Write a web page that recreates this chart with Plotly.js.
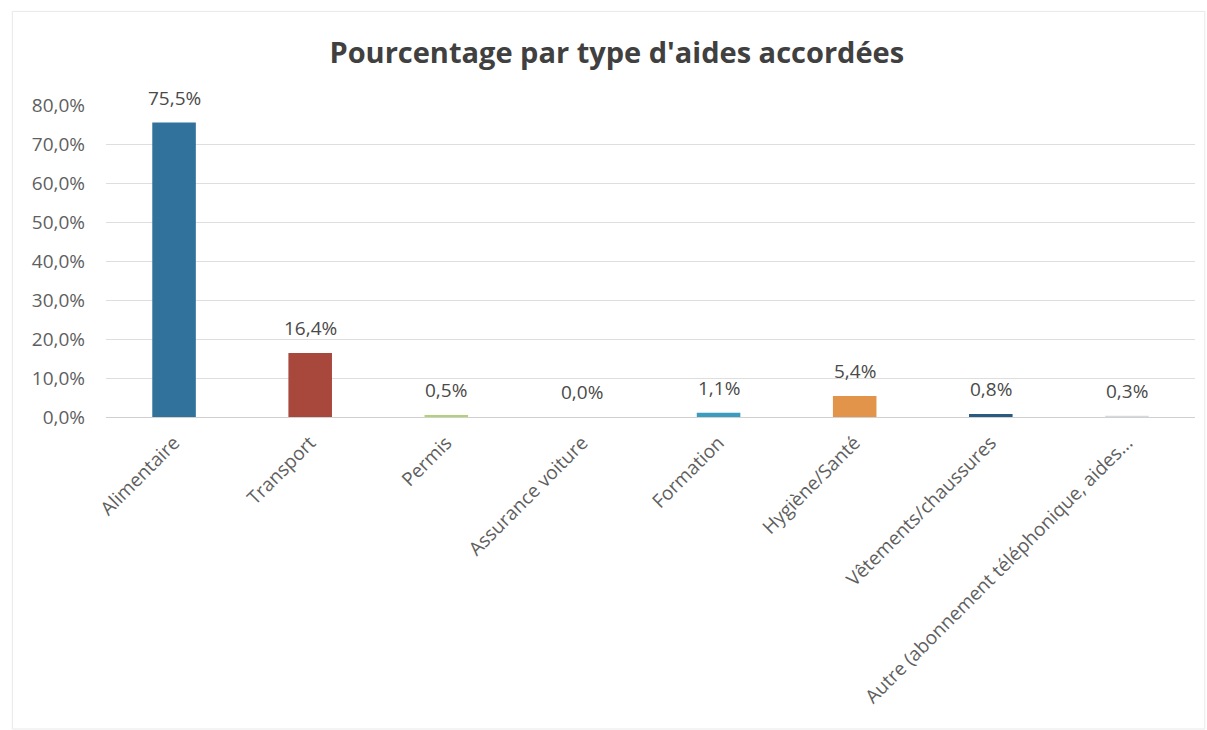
<!DOCTYPE html>
<html>
<head>
<meta charset="utf-8">
<script src="https://cdn.plot.ly/plotly-3.0.1.min.js"></script>
<style>html,body{margin:0;padding:0;background:#fff;}#chart{width:1207px;height:730px;}</style>
</head>
<body>
<div id="chart"></div>
<script>
const categories = ["Alimentaire", "Transport", "Permis", "Assurance voiture", "Formation", "Hygiène/Santé", "Vêtements/chaussures", "Autre (abonnement téléphonique, aides..."];
const values = [75.5, 16.4, 0.5, 0.0, 1.1, 5.4, 0.8, 0.3];
const barColors = ["#31729c", "#a8473b", "#b5d177", "#7f7f7f", "#3a9cbf", "#e2954a", "#2a5a80", "#d3dbe2"];
const yTicks = [0, 10, 20, 30, 40, 50, 60, 70, 80];

const fmt = v => v.toFixed(1).replace(".", ",") + "%";

const trace = {
  type: "bar",
  x: categories,
  y: values,
  marker: {color: barColors},
  cliponaxis: false,
  hoverinfo: "skip"
};

const labelAnnotations = categories.map((c, i) => ({
  x: c, y: values[i], xref: "x", yref: "y",
  text: fmt(values[i]), showarrow: false,
  xanchor: "center", yanchor: "bottom", yshift: 10,
  font: {family: "Open Sans, sans-serif", size: 19, color: "#4a4a4a"}
}));

const layout = {
  width: 1207, height: 730,
  margin: {l: 106, r: 12, t: 105, b: 313},
  paper_bgcolor: "#ffffff", plot_bgcolor: "#ffffff",
  separators: ", ",
  bargap: 0.68,
  showlegend: false,
  title: {text: "<b>Pourcentage par type d'aides accordées</b>", x: 0.511, xanchor: "center", y: 0.928, yanchor: "middle",
          font: {family: "Open Sans, sans-serif", size: 29, color: "#404040"}},
  xaxis: {type: "category", tickangle: -45, showgrid: false, showline: false, ticks: "",
          ticklabelstandoff: 10,
          tickfont: {family: "Open Sans, sans-serif", size: 19, color: "#5f5f5f"}, automargin: false},
  yaxis: {range: [0, 80], tickvals: yTicks, ticktext: yTicks.map(fmt),
          showgrid: true, gridcolor: "#dedede", gridwidth: 1, zeroline: true, zerolinecolor: "#d0d0d0", showline: false, ticks: "",
          ticklabelstandoff: 20,
          tickfont: {family: "Open Sans, sans-serif", size: 19, color: "#5f5f5f"}, automargin: false},
  annotations: labelAnnotations,
  shapes: [{type: "rect", xref: "paper", yref: "paper", x0: -0.086, x1: 1.009, y0: -1.0, y1: 1.3, line: {color: "#e8e8e8", width: 1}}]
};

Plotly.newPlot("chart", [trace], layout, {staticPlot: true});
</script>
</body>
</html>
